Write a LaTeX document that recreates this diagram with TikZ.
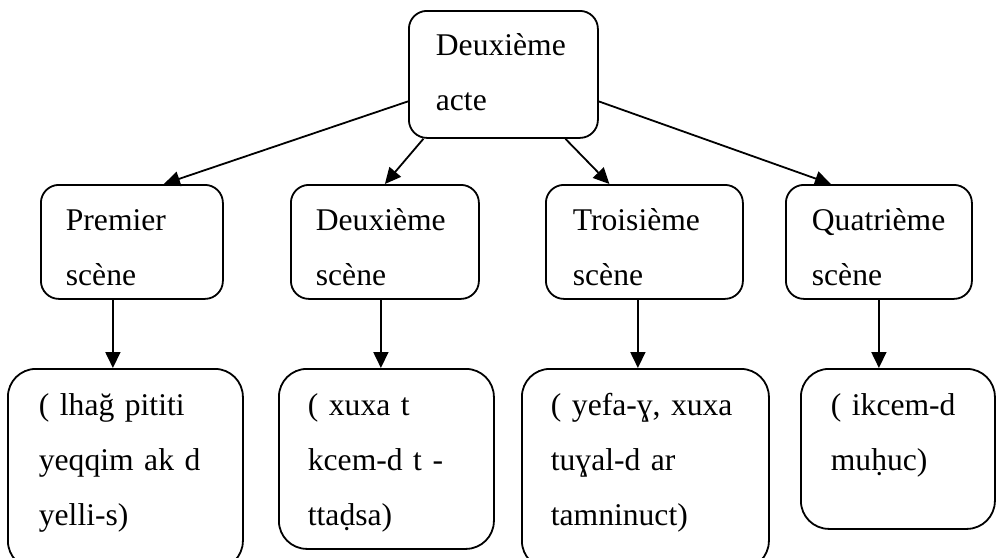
\documentclass[tikz,border=0pt]{standalone}
\usepackage{fontspec}
\setmainfont[WordSpace=0.7]{Liberation Serif}
\usetikzlibrary{arrows.meta}

\tikzset{
  box/.style={draw, line width=1.8pt, rounded corners=18pt, anchor=north west,
    align=left, inner ysep=0pt, font=\fontsize{31.6}{55}\selectfont},
  arr/.style={line width=1.8pt, -{Triangle[length=16pt, width=15pt]}},
}

\begin{document}
\begin{tikzpicture}[x=1pt, y=-1pt]

\path[use as bounding box, clip] (0,0) rectangle (996,557);

% Deuxieme acte
\node[box, inner xsep=27pt, text width=135pt, text height=45pt, text depth=82pt] (acte) at (408,10) {Deuxième\\acte};

% scenes
\node[box, inner xsep=25pt, text width=132pt, text height=46pt, text depth=68pt] (sc1) at (40,184) {Premier\\scène};
\node[box, inner xsep=25pt, text width=138pt, text height=46pt, text depth=68pt] (sc2) at (290,184) {Deuxième\\scène};
\node[box, inner xsep=27pt, text width=143pt, text height=46pt, text depth=68pt] (sc3) at (545,184) {Troisième\\scène};
\node[box, inner xsep=26pt, text width=134pt, text height=46pt, text depth=68pt] (sc4) at (785,184) {Quatrième\\scène};

% contents of the scenes
\node[box, rounded corners=28pt, inner xsep=31pt, text width=173pt, text height=47pt, text depth=153pt] (ct1) at (7,368) {( lhağ pititi\\yeqqim ak d\\yelli-s)};
\node[box, rounded corners=28pt, inner xsep=29pt, text width=157pt, text height=47pt, text depth=133pt] (ct2) at (278,368) {( xuxa t\\kcem-d t -\\ttaḍsa)};
\node[box, rounded corners=28pt, inner xsep=29pt, text width=189pt, text height=47pt, text depth=153pt] (ct3) at (521,368) {( yefa-ɣ, xuxa\\tuɣal-d ar\\tamninuct)};
\node[box, rounded corners=28pt, inner xsep=30pt, text width=134pt, text height=47pt, text depth=113pt] (ct4) at (800,368) {( ikcem-d\\muḥuc)};

% acte -> scenes
\draw[arr] ([yshift=-27pt]acte.west) -- ([xshift=32pt]sc1.north);
\draw[arr] ([xshift=-80pt]acte.south) -- (sc2.north);
\draw[arr] ([xshift=62pt]acte.south) -- ([xshift=-35pt]sc3.north);
\draw[arr] ([yshift=-27pt]acte.east) -- ([xshift=-48pt]sc4.north);

% scenes -> contents
\draw[arr] ([xshift=-19pt]sc1.south) -- ([xshift=-19pt]sc1.south |- ct1.north);
\draw[arr] ([xshift=-4pt]sc2.south) -- ([xshift=-4pt]sc2.south |- ct2.north);
\draw[arr] ([xshift=-6.5pt]sc3.south) -- ([xshift=-6.5pt]sc3.south |- ct3.north);
\draw[arr] (sc4.south) -- (sc4.south |- ct4.north);

\end{tikzpicture}
\end{document}
